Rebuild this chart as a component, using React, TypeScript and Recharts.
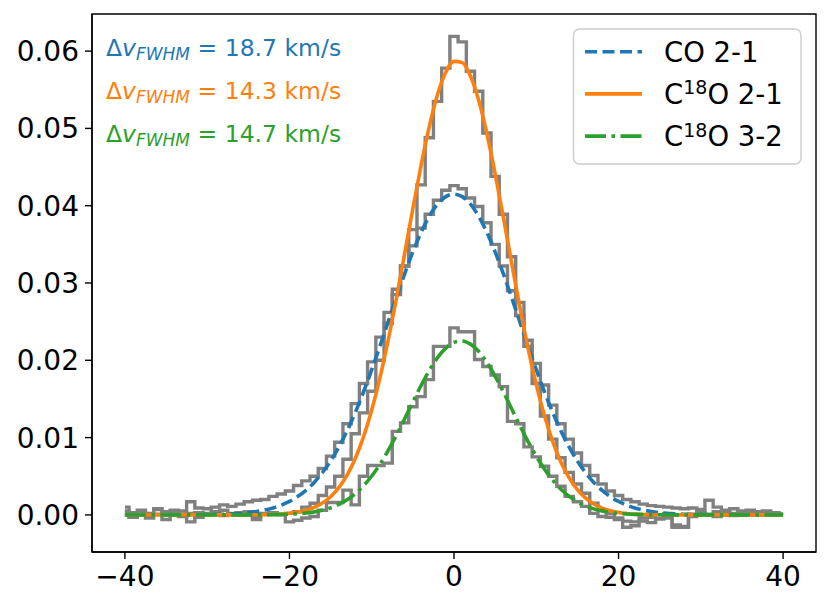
import React from 'react';
import { ComposedChart, Line, XAxis, YAxis, ReferenceArea } from 'recharts';

// Channel velocities (km/s)
const VEL = [
  -40, -39, -38, -37, -36, -35, -34, -33, -32, -31,
  -30, -29, -28, -27, -26, -25, -24, -23, -22, -21,
  -20, -19, -18, -17, -16, -15, -14, -13, -12, -11,
  -10, -9, -8, -7, -6, -5, -4, -3, -2, -1,
  0, 1, 2, 3, 4, 5, 6, 7, 8, 9,
  10, 11, 12, 13, 14, 15, 16, 17, 18, 19,
  20, 21, 22, 23, 24, 25, 26, 27, 28, 29,
  30, 31, 32, 33, 34, 35, 36, 37, 38, 39, 40,
];

// Observed spectra (gray steps)
const CO21_OBS = [
  0.0010, 0.0003, 0.0006, 0.0002, 0.0007, 0.0004, 0.0006, 0.0005, 0.0017, 0.0009,
  0.0008, 0.0010, 0.0013, 0.0011, 0.0014, 0.0017, 0.0019, 0.0020, 0.0024, 0.0027,
  0.0031, 0.0038, 0.0044, 0.0050, 0.0060, 0.0076, 0.0094, 0.0118, 0.0144, 0.0170,
  0.0198, 0.0230, 0.0262, 0.0292, 0.0322, 0.0348, 0.0371, 0.0389, 0.0407, 0.0420,
  0.0426, 0.0422, 0.0410, 0.0399, 0.0378, 0.0350, 0.0322, 0.0290, 0.0258, 0.0226,
  0.0196, 0.0168, 0.0142, 0.0118, 0.0098, 0.0080, 0.0064, 0.0051, 0.0040, 0.0031,
  0.0025, 0.0020, 0.0017, 0.0014, 0.0012, 0.0011, 0.0010, 0.0009, 0.0008, 0.0009,
  0.0007, 0.0019, 0.0010, 0.0006, 0.0008, 0.0005, 0.0006, 0.0004, 0.0005, 0.0003, 0.0001,
];

const C18O21_OBS = [
  0.0005, -0.0003, 0.0002, -0.0004, 0.0001, 0.0003, 0.0000, -0.0002, 0.0002, -0.0003,
  0.0001, 0.0003, -0.0001, 0.0002, 0.0000, 0.0004, -0.0002, 0.0001, 0.0003, 0.0000,
  0.0002, 0.0004, 0.0010, 0.0015, 0.0025, 0.0036, 0.0050, 0.0072, 0.0105, 0.0132,
  0.0160, 0.0200, 0.0248, 0.0285, 0.0322, 0.0369, 0.0427, 0.0488, 0.0535, 0.0578,
  0.0619, 0.0612, 0.0574, 0.0548, 0.0494, 0.0438, 0.0389, 0.0334, 0.0275, 0.0218,
  0.0170, 0.0128, 0.0098, 0.0074, 0.0055, 0.0040, 0.0028, 0.0015, 0.0006, 0.0002,
  -0.0006, -0.0008, -0.0009, -0.0008, -0.0010, -0.0005, -0.0004, -0.0013, -0.0016, -0.0002,
  0.0003, 0.0000, 0.0004, 0.0002, -0.0001, 0.0003, 0.0001, 0.0004, 0.0000, 0.0002, 0.0001,
];

const C18O32_OBS = [
  0.0004, -0.0002, 0.0003, 0.0000, 0.0008, -0.0006, 0.0002, 0.0001, -0.0009, 0.0003,
  0.0002, 0.0004, 0.0006, 0.0001, 0.0003, 0.0000, -0.0006, 0.0002, 0.0003, 0.0001,
  -0.0009, -0.0007, -0.0004, -0.0002, 0.0006, 0.0016, 0.0016, 0.0032, 0.0013, 0.0050,
  0.0064, 0.0064, 0.0067, 0.0108, 0.0119, 0.0140, 0.0153, 0.0175, 0.0218, 0.0218,
  0.0242, 0.0237, 0.0237, 0.0201, 0.0192, 0.0181, 0.0166, 0.0121, 0.0118, 0.0088,
  0.0075, 0.0063, 0.0050, 0.0037, 0.0024, 0.0017, 0.0011, 0.0002, -0.0002, -0.0003,
  -0.0004, -0.0016, -0.0014, -0.0004, -0.0003, -0.0005, 0.0002, -0.0016, -0.0015, 0.0001,
  0.0003, 0.0001, -0.0002, 0.0004, 0.0002, 0.0000, 0.0003, 0.0001, 0.0002, 0.0000, 0.0001,
];

// Fitted profiles
const CO21_FIT = [
  0, 0, 0, 0, 0, 0, 0, 0, 0.00001, 0.00002,
  0.00003, 0.00005, 0.00008, 0.00013, 0.00019, 0.00029, 0.00043, 0.00063, 0.00089, 0.00126,
  0.00174, 0.00237, 0.00318, 0.00420, 0.00545, 0.00697, 0.00877, 0.01086, 0.01325, 0.01590,
  0.01878, 0.02183, 0.02498, 0.02814, 0.03119, 0.03403, 0.03655, 0.03864, 0.04021, 0.04117,
  0.04150, 0.04117, 0.04021, 0.03864, 0.03655, 0.03403, 0.03119, 0.02814, 0.02498, 0.02183,
  0.01878, 0.01590, 0.01325, 0.01086, 0.00877, 0.00697, 0.00545, 0.00420, 0.00318, 0.00237,
  0.00174, 0.00126, 0.00089, 0.00063, 0.00043, 0.00029, 0.00019, 0.00013, 0.00008, 0.00005,
  0.00003, 0.00002, 0.00001, 0, 0, 0, 0, 0, 0, 0, 0,
];

const C18O21_FIT = [
  0, 0, 0, 0, 0, 0, 0, 0, 0, 0,
  0, 0, 0, 0, 0, 0, 0.00002, 0.00003, 0.00006, 0.00012,
  0.00021, 0.00036, 0.00060, 0.00097, 0.00153, 0.00235, 0.00352, 0.00514, 0.00730, 0.01009,
  0.01357, 0.01775, 0.02261, 0.02803, 0.03380, 0.03964, 0.04522, 0.05025, 0.05438, 0.05726,
  0.05867, 0.05851, 0.05679, 0.05365, 0.04931, 0.04413, 0.03849, 0.03263, 0.02689, 0.02158,
  0.01686, 0.01282, 0.00948, 0.00682, 0.00478, 0.00326, 0.00216, 0.00140, 0.00088, 0.00054,
  0.00032, 0.00019, 0.00010, 0.00006, 0.00003, 0.00001, 0, 0, 0, 0,
  0, 0, 0, 0, 0, 0, 0, 0, 0, 0, 0,
];

const C18O32_FIT = [
  0, 0, 0, 0, 0, 0, 0, 0, 0, 0,
  0, 0, 0, 0, 0, 0, 0, 0.00001, 0.00003, 0.00005,
  0.00009, 0.00015, 0.00024, 0.00039, 0.00060, 0.00091, 0.00135, 0.00195, 0.00275, 0.00377,
  0.00503, 0.00656, 0.00833, 0.01031, 0.01243, 0.01461, 0.01674, 0.01869, 0.02035, 0.02158,
  0.02232, 0.02250, 0.02209, 0.02115, 0.01973, 0.01793, 0.01591, 0.01374, 0.01157, 0.00949,
  0.00760, 0.00592, 0.00450, 0.00332, 0.00240, 0.00169, 0.00116, 0.00078, 0.00050, 0.00032,
  0.00020, 0.00012, 0.00007, 0.00004, 0.00002, 0.00001, 0, 0, 0, 0,
  0, 0, 0, 0, 0, 0, 0, 0, 0, 0, 0,
];

const X_TICKS = [-40, -20, 0, 20, 40];
const Y_TICKS = [0, 0.01, 0.02, 0.03, 0.04, 0.05, 0.06];
const FWHM_VALUES = ['18.7', '14.3', '14.7'];
const LINE_COLORS = ['#1f77b4', '#ff7f0e', '#2ca02c'];
const LEGEND_LABELS = [
  { pre: 'CO 2-1', sup: '', post: '' },
  { pre: 'C', sup: '18', post: 'O 2-1' },
  { pre: 'C', sup: '18', post: 'O 3-2' },
];
const DASHES = ['12 5.5', undefined, '21 5.5 3.5 5.5'];

const X_DOMAIN = [-44, 44];
const Y_DOMAIN = [-0.0048, 0.0648];
const FONT = 'DejaVu Sans, sans-serif';

const data = VEL.map((v, i) => ({
  v,
  coObs: CO21_OBS[i],
  c21Obs: C18O21_OBS[i],
  c32Obs: C18O32_OBS[i],
  coFit: CO21_FIT[i],
  c21Fit: C18O21_FIT[i],
  c32Fit: C18O32_FIT[i],
}));

const fmtX = (v: number) => (v < 0 ? '\u2212' + Math.abs(v) : String(v));
const fmtY = (v: number) => v.toFixed(2);

const GRAY_W = 3.4;
const FIT_W = 3.6;

export default function App() {
  const tickStyle = { fill: '#000', fontSize: 28, fontFamily: FONT };
  return (
    <div style={{ position: 'absolute', left: 0, top: 0, width: 830, height: 610, background: '#fff' }}>
      <ComposedChart
        width={830}
        height={610}
        data={data}
        margin={{ top: 14, right: 14, bottom: 0, left: 0 }}
      >
        <XAxis
          dataKey="v"
          type="number"
          domain={X_DOMAIN}
          ticks={X_TICKS}
          tickFormatter={fmtX}
          allowDataOverflow
          height={58}
          tickSize={7}
          tickMargin={7}
          axisLine={{ stroke: '#000', strokeWidth: 1.4 }}
          tickLine={{ stroke: '#000', strokeWidth: 1.4 }}
          tick={tickStyle}
        />
        <YAxis
          type="number"
          domain={Y_DOMAIN}
          ticks={Y_TICKS}
          tickFormatter={fmtY}
          allowDataOverflow
          width={92}
          tickSize={7}
          tickMargin={6}
          axisLine={{ stroke: '#000', strokeWidth: 1.4 }}
          tickLine={{ stroke: '#000', strokeWidth: 1.4 }}
          tick={tickStyle}
        />
        <Line dataKey="coObs" type="step" stroke="#808080" strokeWidth={GRAY_W} dot={false} activeDot={false} isAnimationActive={false} />
        <Line dataKey="c21Obs" type="step" stroke="#808080" strokeWidth={GRAY_W} dot={false} activeDot={false} isAnimationActive={false} />
        <Line dataKey="c32Obs" type="step" stroke="#808080" strokeWidth={GRAY_W} dot={false} activeDot={false} isAnimationActive={false} />
        <Line dataKey="coFit" type="monotone" stroke={LINE_COLORS[0]} strokeDasharray={DASHES[0]} strokeWidth={FIT_W} dot={false} activeDot={false} isAnimationActive={false} />
        <Line dataKey="c21Fit" type="monotone" stroke={LINE_COLORS[1]} strokeWidth={FIT_W} dot={false} activeDot={false} isAnimationActive={false} />
        <Line dataKey="c32Fit" type="monotone" stroke={LINE_COLORS[2]} strokeDasharray={DASHES[2]} strokeWidth={FIT_W} dot={false} activeDot={false} isAnimationActive={false} />
        <ReferenceArea
          x1={X_DOMAIN[0]}
          x2={X_DOMAIN[1]}
          y1={Y_DOMAIN[0]}
          y2={Y_DOMAIN[1]}
          fill="none"
          fillOpacity={0}
          stroke="#000"
          strokeWidth={1.4}
          ifOverflow="visible"
        />
      </ComposedChart>
      <svg
        width={830}
        height={610}
        style={{ position: 'absolute', left: 0, top: 0, pointerEvents: 'none' }}
      >
        {FWHM_VALUES.map((val, i) => (
          <text key={i} x={106} y={56 + i * 43} fontFamily={FONT} fontSize={23.5} fill={LINE_COLORS[i]}>
            <tspan>Δ</tspan>
            <tspan fontStyle="italic">v</tspan>
            <tspan fontStyle="italic" fontSize={17} dy={4}>FWHM</tspan>
            <tspan dy={-4}>{' = ' + val + ' km/s'}</tspan>
          </text>
        ))}
        <rect x={573.5} y={29} width={227.5} height={135} rx={6} ry={6} fill="#fff" fillOpacity={0.8} stroke="#cccccc" strokeWidth={1.4} />
        {LEGEND_LABELS.map((lab, i) => {
          const rowY = 51.7 + i * 42.2;
          return (
            <g key={i}>
              <line x1={585} x2={642} y1={rowY} y2={rowY} stroke={LINE_COLORS[i]} strokeWidth={FIT_W} strokeDasharray={DASHES[i]} />
              <text x={664} y={rowY + 10} fontFamily={FONT} fontSize={27.5} fill="#000">
                <tspan>{lab.pre}</tspan>
                {lab.sup ? <tspan fontSize={19} dy={-9.5}>{lab.sup}</tspan> : null}
                {lab.sup ? <tspan dy={9.5}>{lab.post}</tspan> : null}
              </text>
            </g>
          );
        })}
      </svg>
    </div>
  );
}
